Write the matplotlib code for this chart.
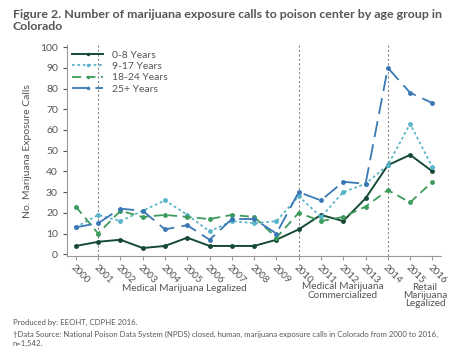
import matplotlib.pyplot as plt
import numpy as np

years = list(range(2000, 2017))
age_0_8 = [4, 6, 7, 3, 4, 8, 4, 4, 4, 7, 12, 19, 16, 27, 43, 48, 40]
age_9_17 = [13, 19, 16, 21, 26, 19, 11, 16, 15, 16, 28, 18, 30, 34, 43, 63, 42]
age_18_24 = [23, 10, 21, 18, 19, 18, 17, 19, 18, 8, 20, 16, 18, 23, 31, 25, 35]
age_25_up = [13, 15, 22, 21, 12, 14, 7, 17, 17, 10, 30, 26, 35, 34, 90, 78, 73]
event_years = [2001, 2010, 2014]

plt.rcParams['font.family'] = ['Lato', 'DejaVu Sans']

fig = plt.figure(figsize=(4.68, 3.55), dpi=100)
ax = fig.add_axes([0.143, 0.278, 0.80, 0.595])

gray = '#555555'
ax.plot(years, age_0_8, color='#174a36', lw=1.4, marker='o', ms=2.5, label='0-8 Years')
ax.plot(years, age_9_17, color='#5bb5c9', lw=1.3, ls=(0, (1.5, 1.5)), marker='o', ms=2.5, label='9-17 Years')
ax.plot(years, age_18_24, color='#3d9b5c', lw=1.3, ls=(0, (5, 3)), marker='o', ms=2.5, label='18-24 Years')
ax.plot(years, age_25_up, color='#3a78b5', lw=1.3, ls=(0, (9, 4)), marker='o', ms=2.5, label='25+ Years')

for yr in event_years:
    ax.axvline(yr, color='#888888', lw=0.8, ls=(0, (2, 2)), zorder=0)

ax.set_ylim(-1, 101)
ax.set_xlim(1999.6, 2016.4)
ax.set_yticks(range(0, 101, 10))
ax.set_xticks(years)
ax.set_xticklabels([str(y) for y in years], rotation=-45, ha='left', rotation_mode='anchor',
                   fontsize=7, color=gray)
ax.tick_params(axis='y', labelsize=7.5, colors=gray, length=3)
ax.tick_params(axis='x', colors='#999999', labelcolor=gray, length=3, pad=2)
for s in ['top', 'right']:
    ax.spines[s].set_visible(False)
for s in ['left', 'bottom']:
    ax.spines[s].set_color('#999999')
ax.set_ylabel('No. Marijuana Exposure Calls', fontsize=7.5, color=gray, labelpad=6)

ax.legend(loc='upper left', frameon=False, fontsize=7.5, labelcolor=gray,
          handlelength=3, borderaxespad=0.1, labelspacing=0.2, markerscale=0.6)

fig.text(0.027, 0.975, 'Figure 2. Number of marijuana exposure calls to poison center by age group in\nColorado',
         fontsize=8.9, fontweight='bold', color='#555555', va='top', ha='left', linespacing=1.15)

fig.text(0.395, 0.188, 'Medical Marijuana Legalized', fontsize=7.2, color=gray, ha='center', va='center')
fig.text(0.733, 0.18, 'Medical Marijuana\nCommercialized', fontsize=7.2, color=gray, ha='center', va='center',
         linespacing=1.0)
fig.text(0.908, 0.168, 'Retail\nMarijuana\nLegalized', fontsize=7.2, color=gray, ha='center', va='center',
         linespacing=0.9)

fig.text(0.027, 0.093, 'Produced by: EEOHT, CDPHE 2016.', fontsize=5.6, color=gray, ha='left', va='center')
fig.text(0.027, 0.045, '\u2020Data Source: National Poison Data System (NPDS) closed, human, marijuana exposure calls in Colorado from 2000 to 2016,\nn=1,542.',
         fontsize=5.6, color=gray, ha='left', va='center', linespacing=1.4)

fig.savefig('out.png', dpi=100)
